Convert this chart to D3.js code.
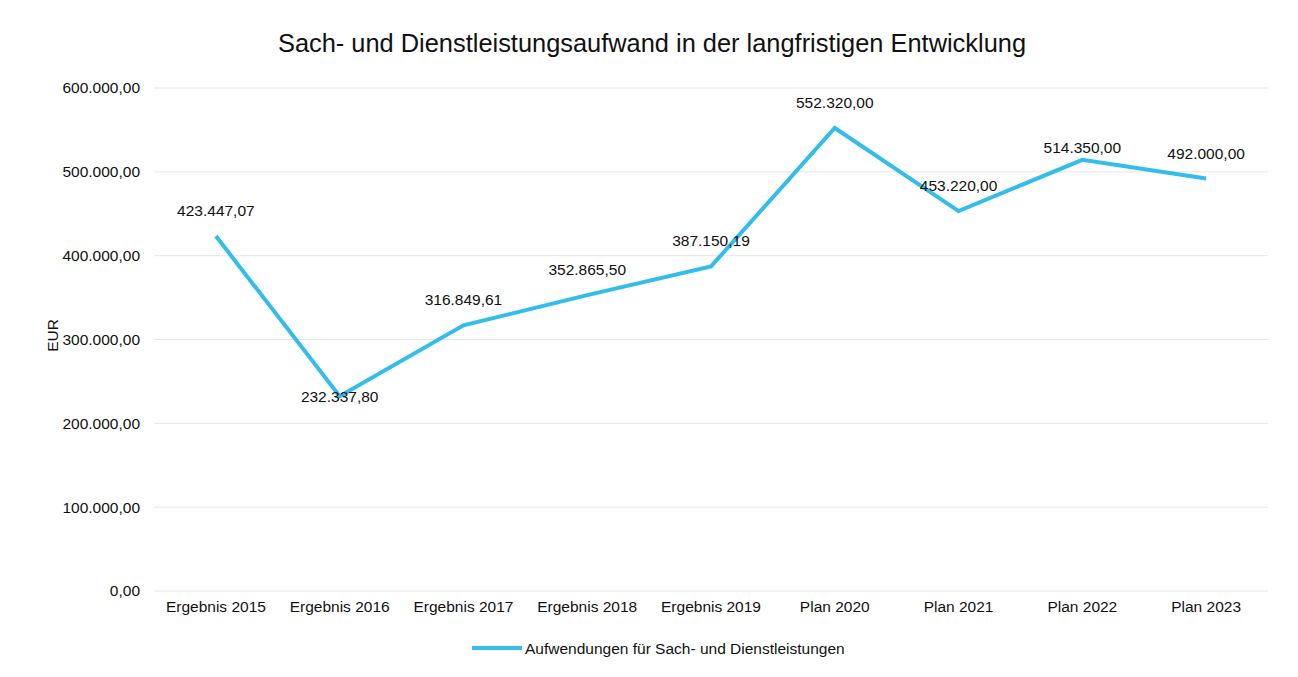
<!DOCTYPE html>
<html>
<head>
<meta charset="utf-8">
<script src="https://cdn.jsdelivr.net/npm/d3@7.9.0/dist/d3.min.js"></script>
<style>
  body { margin: 0; background: #fff; }
  svg { font-family: "Liberation Sans", Arial, sans-serif; }
</style>
</head>
<body>
<div id="chart"></div>
<script>
const categories = ["Ergebnis 2015", "Ergebnis 2016", "Ergebnis 2017", "Ergebnis 2018", "Ergebnis 2019",
    "Plan 2020", "Plan 2021", "Plan 2022", "Plan 2023"];
const values = [423447.07, 232337.80, 316849.61, 352865.50, 387150.19, 552320.00, 453220.00, 514350.00, 492000.00];
const yTicks = [0, 100000, 200000, 300000, 400000, 500000, 600000];
const seriesName = "Aufwendungen für Sach- und Dienstleistungen";
const title = "Sach- und Dienstleistungsaufwand in der langfristigen Entwicklung";

const width = 1298, height = 677;
const margin = { top: 88, right: 30, bottom: 86, left: 154 };
const lineColor = "#33bdea";
const fontSize = 15.5;

const svg = d3.select("#chart").append("svg")
    .attr("width", width)
    .attr("height", height);

const x = d3.scaleBand().domain(categories).range([margin.left, 1268]);
const y = d3.scaleLinear().domain([0, 600000]).range([height - margin.bottom, margin.top]);

// German number format
const de = d3.formatLocale({ decimal: ",", thousands: ".", grouping: [3], currency: ["", " €"] });
const fmt = de.format(",.2f");

// gridlines
svg.append("g").selectAll("line").data(yTicks)
    .join("line")
    .attr("x1", x.range()[0])
    .attr("x2", x.range()[1])
    .attr("y1", d => y(d))
    .attr("y2", d => y(d))
    .attr("stroke", "#e6e6e6")
    .attr("stroke-width", 1);

// y axis labels
const yAxis = svg.append("g")
    .attr("transform", `translate(${margin.left - 14},0)`)
    .call(d3.axisLeft(y).tickValues(yTicks).tickFormat(fmt).tickSize(0).tickPadding(0));
yAxis.select(".domain").remove();
yAxis.selectAll("text").attr("font-size", fontSize).attr("fill", "#111")
    .attr("font-family", "Liberation Sans, Arial, sans-serif");

// x axis labels
const xAxis = svg.append("g")
    .attr("transform", `translate(0,${y(0)})`)
    .call(d3.axisBottom(x).tickSize(0).tickPadding(10));
xAxis.select(".domain").remove();
xAxis.selectAll("text").attr("font-size", fontSize).attr("fill", "#111")
    .attr("font-family", "Liberation Sans, Arial, sans-serif");

// y title
svg.append("text")
    .attr("transform", `translate(58,${(y(0) + y(600000)) / 2 - 4}) rotate(-90)`)
    .attr("text-anchor", "middle")
    .attr("font-size", fontSize)
    .attr("fill", "#111")
    .text("EUR");

// chart title
svg.append("text")
    .attr("x", 652)
    .attr("y", 52)
    .attr("text-anchor", "middle")
    .attr("font-size", 25.4)
    .attr("fill", "#111")
    .text(title);

const cx = d => x(d) + x.bandwidth() / 2;
const pts = categories.map((c, i) => ({ c, v: values[i] }));

svg.append("path")
    .datum(pts)
    .attr("fill", "none")
    .attr("stroke", lineColor)
    .attr("stroke-width", 4)
    .attr("stroke-linejoin", "miter")
    .attr("d", d3.line().x(d => cx(d.c)).y(d => y(d.v)));

// data labels (Excel put a couple of them off the usual spot)
const labelShift = { "Ergebnis 2016": 6, "Plan 2022": -7 };
svg.append("g").selectAll("text").data(pts)
    .join("text")
    .attr("x", d => cx(d.c))
    .attr("y", d => y(d.v) + (labelShift[d.c] !== undefined ? labelShift[d.c] : -20))
    .attr("text-anchor", "middle")
    .attr("font-size", fontSize)
    .attr("fill", "#111")
    .text(d => fmt(d.v));

// legend
const lg = svg.append("g").attr("transform", "translate(472,648)");
lg.append("line").attr("x1", 0).attr("x2", 50)
    .attr("stroke", lineColor).attr("stroke-width", 4);
lg.append("text").attr("x", 53).attr("y", 5.5)
    .attr("font-size", fontSize).attr("fill", "#111")
    .text(seriesName);
</script>
</body>
</html>
